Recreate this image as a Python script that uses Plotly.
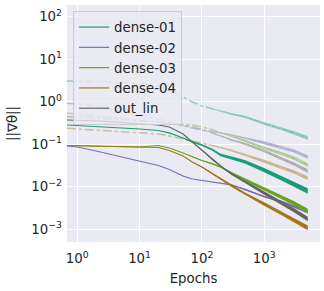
import plotly.graph_objects as go

epochs = [0.68, 1, 2, 5, 10, 20, 30, 50, 70, 100, 150, 200, 300, 500, 1000, 2000, 3000, 5000]

names = ["dense-01", "dense-02", "dense-03", "dense-04", "out_lin"]

# solid (layer gradient norms)
dense01 = [0.283, 0.275, 0.261, 0.240, 0.228, 0.210, 0.184, 0.140, 0.113, 0.096, 0.073, 0.0557, 0.0473, 0.0381, 0.0247, 0.0152, 0.0116, 0.0079]
dense02 = [0.0908, 0.0859, 0.0692, 0.0500, 0.0392, 0.0315, 0.0254, 0.0179, 0.0152, 0.0140, 0.0131, 0.0122, 0.0110, 0.0086, 0.00587, 0.00437, 0.00338, 0.00254]
dense03 = [0.0931, 0.0923, 0.0908, 0.0883, 0.0859, 0.0931, 0.0815, 0.0621, 0.0500, 0.0413, 0.0342, 0.0291, 0.0210, 0.0144, 0.00883, 0.00542, 0.00413, 0.00268]
dense04 = [0.0931, 0.0923, 0.0908, 0.0893, 0.0883, 0.0836, 0.0710, 0.0527, 0.0381, 0.0291, 0.0199, 0.0152, 0.0104, 0.00673, 0.00392, 0.00228, 0.00164, 0.00107]
out_lin = [0.371, 0.365, 0.352, 0.327, 0.307, 0.283, 0.254, 0.174, 0.113, 0.0731, 0.0425, 0.0307, 0.0199, 0.0129, 0.00711, 0.00392, 0.00283, 0.00174]

# faint dash-dot companions
dense01_b = [3.07, 3.07, 2.99, 2.91, 2.75, 2.34, 1.88, 1.29, 0.984, 0.792, 0.692, 0.604, 0.514, 0.436, 0.307, 0.228, 0.184, 0.140]
dense02_b = [0.916, 0.883, 0.792, 0.638, 0.514, 0.392, 0.333, 0.268, 0.240, 0.216, 0.199, 0.184, 0.164, 0.140, 0.110, 0.0815, 0.0692, 0.0500]
dense03_b = [0.533, 0.514, 0.461, 0.403, 0.361, 0.342, 0.324, 0.299, 0.283, 0.254, 0.216, 0.184, 0.156, 0.119, 0.0815, 0.0588, 0.0473, 0.0324]
dense04_b = [0.237, 0.228, 0.216, 0.199, 0.188, 0.174, 0.156, 0.132, 0.119, 0.107, 0.0931, 0.0836, 0.0711, 0.0557, 0.0403, 0.0275, 0.0222, 0.0158]
out_lin_b = [0.444, 0.436, 0.413, 0.381, 0.361, 0.333, 0.316, 0.283, 0.254, 0.222, 0.184, 0.156, 0.126, 0.101, 0.0692, 0.0449, 0.0342, 0.0234]

# noise spread (half width, decades)
spread01 = [0, 0, 0, 0, 0, 0, 0, 0.008, 0.012, 0.018, 0.024, 0.03, 0.036, 0.042, 0.05, 0.056, 0.06, 0.065]
spread02 = [0, 0, 0, 0, 0, 0, 0, 0, 0, 0, 0, 0.006, 0.01, 0.014, 0.02, 0.025, 0.03, 0.035]
spread03 = [0, 0, 0, 0, 0, 0, 0, 0, 0.006, 0.01, 0.015, 0.02, 0.025, 0.03, 0.04, 0.045, 0.05, 0.055]
spread04 = [0, 0, 0, 0, 0, 0, 0, 0, 0.006, 0.01, 0.015, 0.02, 0.025, 0.03, 0.04, 0.045, 0.05, 0.055]
spread05 = [0, 0, 0, 0, 0, 0, 0, 0, 0.006, 0.01, 0.015, 0.02, 0.025, 0.03, 0.04, 0.045, 0.05, 0.055]
spread_b = [0, 0, 0, 0, 0, 0, 0, 0, 0, 0, 0.006, 0.01, 0.016, 0.022, 0.03, 0.035, 0.038, 0.04]

solid = [dense01, dense02, dense03, dense04, out_lin]
faint = [dense01_b, dense02_b, dense03_b, dense04_b, out_lin_b]
spreads = [spread01, spread02, spread03, spread04, spread05]

colors = ["#1b9e77", "#7570b3", "#66a61e", "#a6761d", "#666666"]
BG = (234, 234, 242)


def blend(hexc, a):
    r, g, b = int(hexc[1:3], 16), int(hexc[3:5], 16), int(hexc[5:7], 16)
    return "rgb(%d,%d,%d)" % (round(a * r + (1 - a) * BG[0]),
                              round(a * g + (1 - a) * BG[1]),
                              round(a * b + (1 - a) * BG[2]))


def band(xs, ys, sp, color):
    idx = [i for i, s in enumerate(sp) if s > 0]
    if not idx:
        return None
    i0 = max(idx[0] - 1, 0)
    xx = xs[i0:]
    up = [y * 10 ** s for y, s in zip(ys[i0:], sp[i0:])]
    lo = [y * 10 ** (-s) for y, s in zip(ys[i0:], sp[i0:])]
    return go.Scatter(x=xx + xx[::-1], y=up + lo[::-1], fill="toself",
                      fillcolor=color, line=dict(width=0), mode="lines",
                      hoverinfo="skip", showlegend=False)


fig = go.Figure()

# faint companions first
for ys, c in zip(faint, colors):
    b = band(epochs, ys, spread_b, blend(c, 0.5))
    if b is not None:
        fig.add_trace(b)
    fig.add_trace(go.Scatter(x=epochs, y=ys, mode="lines",
                             line=dict(color=blend(c, 0.4), width=1.5, dash="dashdot"),
                             showlegend=False, hoverinfo="skip"))

# solid series
for ys, sp, c, n in zip(solid, spreads, colors, names):
    b = band(epochs, ys, sp, c)
    if b is not None:
        fig.add_trace(b)
    fig.add_trace(go.Scatter(x=epochs, y=ys, mode="lines", name=n,
                             line=dict(color=c, width=1.2)))

font = dict(family="DejaVu Sans", size=13, color="#262626")

fig.update_layout(
    width=324, height=291,
    margin=dict(l=67, r=4, t=5, b=49, autoexpand=False),
    paper_bgcolor="white", plot_bgcolor="#eaeaf2",
    font=font,
    showlegend=True,
    legend=dict(x=0.024, y=0.975, xanchor="left", yanchor="top",
                bgcolor="rgba(234,234,242,0.8)", bordercolor="#cccccc", borderwidth=1,
                font=dict(family="DejaVu Sans", size=13.3, color="#262626"),
                itemwidth=30),
)

fig.update_xaxes(type="log", range=[-0.165, 3.896], automargin=False,
                 tickvals=[1, 10, 100, 1000],
                 ticktext=["10<sup>0</sup>", "10<sup>1</sup>", "10<sup>2</sup>", "10<sup>3</sup>"],
                 showgrid=True, gridcolor="white", gridwidth=1.2,
                 zeroline=False, showline=False, ticks="",
                 ticklabelstandoff=7,
                 title=dict(text="Epochs", font=dict(size=13.3), standoff=8),
                 tickfont=dict(size=13.3))
fig.update_yaxes(type="log", range=[-3.301, 2.275], automargin=False,
                 tickvals=[1e-3, 1e-2, 1e-1, 1, 10, 100],
                 ticktext=["10<sup>\u22123</sup>", "10<sup>\u22122</sup>", "10<sup>\u22121</sup>",
                           "10<sup>0</sup>", "10<sup>1</sup>", "10<sup>2</sup>"],
                 showgrid=True, gridcolor="white", gridwidth=1.2,
                 zeroline=False, showline=False, ticks="",
                 ticklabelstandoff=4,
                 title=dict(text="||\u2207\u03b8||", font=dict(size=13.3), standoff=10),
                 tickfont=dict(size=13.3))

fig.write_html("out.html", config={"displayModeBar": False},
               post_script="document.body.style.margin='0';")
